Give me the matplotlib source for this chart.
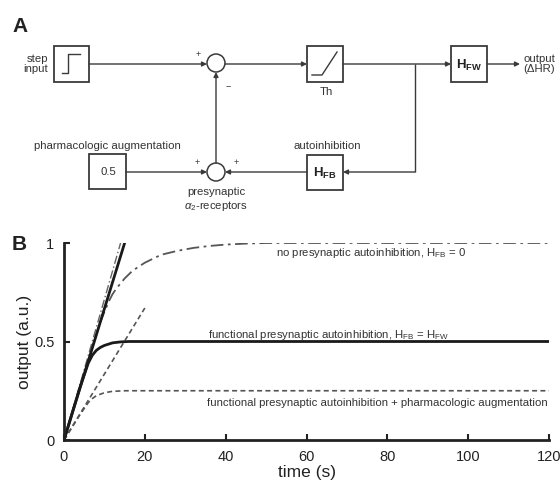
import matplotlib
matplotlib.use('Agg')
import matplotlib.pyplot as plt
from matplotlib.patches import Rectangle, Circle

plt.rcParams['font.family'] = ['Liberation Sans', 'DejaVu Sans']
plt.rcParams['mathtext.fontset'] = 'custom'
plt.rcParams['mathtext.rm'] = 'Liberation Sans'
plt.rcParams['mathtext.it'] = 'Liberation Sans:italic'
plt.rcParams['mathtext.bf'] = 'Liberation Sans:bold'

# ---------------- data (panel B) ----------------
# no presynaptic autoinhibition, H_FB = 0
t_nofb = [0, 5, 9, 10, 11, 12, 13, 15, 17, 20, 24, 28, 32, 36, 40, 45, 50, 120]
y_nofb = [0, 0.34, 0.60, 0.65, 0.70, 0.74, 0.77, 0.82, 0.86, 0.90, 0.94, 0.96, 0.975, 0.985, 0.992, 0.997, 1.0, 1.0]
# functional presynaptic autoinhibition, H_FB = H_FW
t_fb = [0, 2, 4, 5, 5.5, 6, 7, 8, 9, 10, 12, 14, 16, 20, 120]
y_fb = [0, 0.135, 0.27, 0.33, 0.36, 0.39, 0.43, 0.455, 0.47, 0.48, 0.493, 0.498, 0.5, 0.5, 0.5]
# functional presynaptic autoinhibition + pharmacologic augmentation
t_aug = [0, 2, 4, 5, 6, 7, 8, 10, 12, 15, 120]
y_aug = [0, 0.065, 0.13, 0.16, 0.19, 0.21, 0.225, 0.24, 0.247, 0.25, 0.25]
# initial slopes (tangent lines)
t_tan_fb = [0, 15]
y_tan_fb = [0, 1.0]
t_tan_nofb = [0, 14]
y_tan_nofb = [0, 1.0]
t_tan_aug = [0, 20]
y_tan_aug = [0, 0.67]

xticks = [0, 20, 40, 60, 80, 100, 120]
yticks = [0, 0.5, 1]
yticklabels = ['0', '0.5', '1']

fig = plt.figure(figsize=(5.6, 4.86), dpi=100)

# ---------------- panel A: block diagram (pixel coordinates) ----------------
axd = fig.add_axes([0, 0, 1, 1])
axd.set_xlim(0, 560)
axd.set_ylim(486, 0)
axd.axis('off')

lc = '#3a3a3a'
tc = '#333333'
fs = 8.2

def line(xs, ys):
    axd.plot(xs, ys, color=lc, lw=1.0, solid_capstyle='butt')

def arrow(x0, y0, x1, y1):
    axd.annotate('', xy=(x1, y1), xytext=(x0, y0),
                 arrowprops=dict(arrowstyle='-|>', color=lc, lw=1.0,
                                 mutation_scale=7, shrinkA=0, shrinkB=0))

def box(x0, y0, x1, y1):
    axd.add_patch(Rectangle((x0, y0), x1 - x0, y1 - y0, fill=True, fc='white',
                            ec=lc, lw=1.3, zorder=3))

def circ(x, y, r=9):
    axd.add_patch(Circle((x, y), r, fc='white', ec=lc, lw=1.1, zorder=3))

axd.text(12, 32, 'A', fontsize=15, fontweight='bold', color='#222222', ha='left', va='baseline')
axd.text(12, 250, 'B', fontsize=15, fontweight='bold', color='#222222', ha='left', va='baseline')

# step input box
box(54, 46, 89, 82)
axd.plot([62, 68, 68, 80], [73, 73, 54, 54], color=lc, lw=1.0, zorder=4)
axd.text(48, 64, 'step\ninput', fontsize=fs, color=tc, ha='right', va='center', linespacing=1.0)
arrow(89, 64, 207, 64)
axd.text(198, 54, '+', fontsize=6.5, color=tc, ha='center', va='center')
circ(216, 63)
axd.text(228, 86, '\u2212', fontsize=6.5, color=tc, ha='center', va='center')

# to Th
arrow(225, 64, 307, 64)
box(307, 46, 343, 82)
axd.plot([312, 322, 337], [75, 75, 52], color=lc, lw=1.0, zorder=4)
axd.text(326, 92, 'Th', fontsize=fs, color=tc, ha='center', va='center')

# to H_FW
arrow(343, 64, 451, 64)
box(451, 46, 487, 82)
axd.text(469, 65, r'$\mathbf{H_{FW}}$', fontsize=9.5, color='#222222', ha='center', va='center', zorder=5)
arrow(487, 64, 520, 64)
axd.text(523, 64, 'output\n(\u0394HR)', fontsize=fs, color=tc, ha='left', va='center', linespacing=1.0)

# feedback path
line([415, 415], [64, 172])
arrow(415, 172, 343, 172)
box(307, 155, 343, 190)
axd.text(325, 173, r'$\mathbf{H_{FB}}$', fontsize=9.5, color='#222222', ha='center', va='center', zorder=5)
axd.text(327, 146, 'autoinhibition', fontsize=fs, color=tc, ha='center', va='center')
arrow(307, 172, 225, 172)
axd.text(236, 162, '+', fontsize=6.5, color=tc, ha='center', va='center')

# pharmacologic augmentation
box(89, 154, 126, 189)
axd.text(108, 172, '0.5', fontsize=fs, color=tc, ha='center', va='center', zorder=5)
axd.text(107, 146, 'pharmacologic augmentation', fontsize=fs, color=tc, ha='center', va='center')
arrow(126, 172, 207, 172)
axd.text(197, 162, '+', fontsize=6.5, color=tc, ha='center', va='center')
circ(216, 172)
axd.text(216, 192, 'presynaptic', fontsize=fs, color=tc, ha='center', va='center')
axd.text(216, 206, r'$\alpha_2$-receptors', fontsize=fs, color=tc, ha='center', va='center')
arrow(216, 163, 216, 72)

# ---------------- panel B ----------------
axB = fig.add_axes([64 / 560, 46 / 486, 485 / 560, 197 / 486])
axB.patch.set_alpha(0)
dark = '#1a1a1a'
grey = '#555555'

axB.plot(t_tan_nofb, y_tan_nofb, color='#666666', lw=1.0, ls=(0, (6, 2, 1, 2)))
axB.plot(t_tan_aug, y_tan_aug, color=grey, lw=1.2, ls=(0, (3, 2)))
axB.plot(t_nofb, y_nofb, color=grey, lw=1.3, ls=(0, (7, 2.5, 1.5, 2.5)))
axB.plot(t_aug, y_aug, color=grey, lw=1.2, ls=(0, (3, 2)))
axB.plot(t_tan_fb, y_tan_fb, color=dark, lw=2.0)
axB.plot(t_fb, y_fb, color=dark, lw=2.0)

axB.set_xlim(0, 120)
axB.set_ylim(0, 1)
for s in ['top', 'right']:
    axB.spines[s].set_visible(False)
for s in ['left', 'bottom']:
    axB.spines[s].set_linewidth(2.0)
    axB.spines[s].set_color('#222222')
axB.set_xticks(xticks)
axB.set_yticks(yticks)
axB.set_yticklabels(yticklabels)
axB.tick_params(direction='in', length=4, width=1.5, colors='#222222',
                labelsize=10.5, pad=7)
axB.set_xlabel('time (s)', fontsize=12.5, color='#222222', labelpad=1)
axB.set_ylabel('output (a.u.)', fontsize=12.5, color='#222222', labelpad=1.5)

axB.text(0.633, 0.949, r'no presynaptic autoinhibition, H$_{\mathrm{FB}}$ = 0', transform=axB.transAxes,
         fontsize=fs, color=tc, ha='center', va='center')
axB.text(0.545, 0.535, r'functional presynaptic autoinhibition, H$_{\mathrm{FB}}$ = H$_{\mathrm{FW}}$',
         transform=axB.transAxes, fontsize=fs, color=tc, ha='center', va='center')
axB.text(0.998, 0.19, 'functional presynaptic autoinhibition + pharmacologic augmentation',
         transform=axB.transAxes, fontsize=fs, color=tc, ha='right', va='center')

fig.savefig('out.png', dpi=100)
